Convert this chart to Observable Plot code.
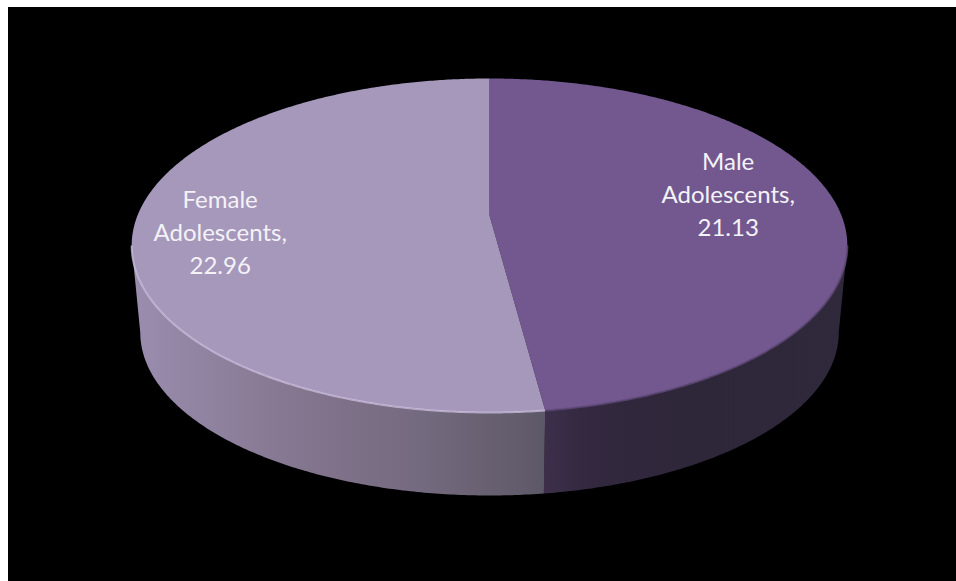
<!DOCTYPE html>
<html>
<head>
<meta charset="utf-8">
<script src="https://cdn.jsdelivr.net/npm/d3@7"></script>
<script src="https://cdn.jsdelivr.net/npm/@observablehq/plot@0.6"></script>
<style>
  html, body { margin: 0; background: #fff; overflow: hidden; }
  #chart { position: absolute; left: 8px; top: 7px; }
</style>
</head>
<body>
<div id="chart"></div>
<script>
// Adolescents by sex, drawn as a tilted 3D pie.
const categories = ["Male Adolescents", "Female Adolescents"];
const values = [21.13, 22.96];
const topColors = ["#72588f", "#a698bb"];
const labelColor = "#f4f2f7";

const width = 948, height = 574;

// Perspective of the disc: centre of the pie, horizontal reach, foreshortening.
const cx = 489, cy = 215, kx = 352, ky = 123, tilt = 0.1796;
// The underside is a slightly smaller copy of the top, lower on the page.
const baseScale = 0.976, baseCentre = 245, baseDrop = 332;

const project = (deg, r = 1) => {
  const a = deg * Math.PI / 180;
  const X = r * Math.sin(a), Y = -r * Math.cos(a), w = 1 - tilt * Y;
  return [cx + kx * X / w, (cy + ky * Y) / w];
};
const lower = ([x, y]) => [cx + baseScale * (x - cx), baseDrop + baseScale * (y - baseCentre)];

const arcPoints = (a0, a1) => {
  const n = Math.max(2, Math.ceil(Math.abs(a1 - a0) * 2));
  return d3.range(n + 1).map(i => project(a0 + (a1 - a0) * i / n));
};

// Slice angles in degrees, clockwise from twelve o'clock.
const slices = d3.pie().sort(null)(values).map((s, i) => ({
  name: categories[i],
  value: values[i],
  color: topColors[i],
  start: s.startAngle * 180 / Math.PI,
  end: s.endAngle * 180 / Math.PI
}));

// The wall is visible between the two points where the rim turns back.
const turn = Math.acos(-tilt) * 180 / Math.PI;
const wallFrom = turn, wallTo = 360 - turn;

const slicePolygon = s => [[cx, cy], ...arcPoints(s.start, s.end)];
const wallPolygon = (a0, a1) => {
  const rim = arcPoints(a0, a1);
  return [...rim, ...rim.slice().reverse().map(lower)];
};

const [male, female] = slices;
const maleWall = wallPolygon(wallFrom, male.end);
const femaleWall = wallPolygon(female.start, wallTo);
const femaleFrontRim = arcPoints(female.start, wallTo);
const maleFrontRim = arcPoints(wallFrom, male.end);

const label = s => {
  const [a, b] = s.name.split(" ");
  return `${a}\n${b},\n${s.value}`;
};
const mid = s => (s.start + s.end) / 2;

const gradient = (id, stops) => () => {
  const g = d3.create("svg:linearGradient").attr("id", id);
  stops.forEach(([o, c]) => g.append("stop").attr("offset", o).attr("stop-color", c));
  const defs = d3.create("svg:defs");
  defs.append(() => g.node());
  return defs.node();
};

const shape = (pts, fill) => Plot.line(pts, {x: d => d[0], y: d => d[1], fill, stroke: "none"});
const edge = (pts, stroke, strokeWidth, strokeOpacity) =>
  Plot.line(pts, {x: d => d[0], y: d => d[1], stroke, strokeWidth, strokeOpacity, strokeLinecap: "butt"});
const sliceLabel = (s, r, dy) => {
  const [x, y] = project(mid(s), r);
  return Plot.text([label(s)], {
    x: () => x, y: () => y, dy, text: d => d,
    fill: labelColor, fontFamily: "Lato", fontSize: 24,
    lineHeight: 33 / 24, textAnchor: "middle", lineAnchor: "middle"
  });
};

const chart = Plot.plot({
  width, height,
  margin: 0,
  style: {background: "#000", display: "block"},
  x: {domain: [8, 956], range: [0, width], axis: null},
  y: {domain: [7, 581], range: [0, height], axis: null},
  marks: [
    gradient("femaleWall", [
      [0, "#9a8dae"], [0.2, "#8f829f"], [0.33, "#887a94"], [0.5, "#7e7189"],
      [0.7, "#746a7f"], [0.85, "#696172"], [1, "#5d5868"]
    ]),
    gradient("maleWall", [
      [0, "#3d2f4b"], [0.15, "#33283f"], [0.5, "#2e2639"], [1, "#30283b"]
    ]),
    shape(maleWall, "url(#maleWall)"),
    shape(femaleWall, "url(#femaleWall)"),
    shape(slicePolygon(male), male.color),
    shape(slicePolygon(female), female.color),
    edge(femaleFrontRim, "#cdc2e0", 2, 0.75),
    edge(maleFrontRim, "#5f4a78", 2, 0.8),
    sliceLabel(male, 0.685, -16),
    sliceLabel(female, 0.76, 7)
  ]
});
document.getElementById("chart").append(chart);
</script>
</body>
</html>
